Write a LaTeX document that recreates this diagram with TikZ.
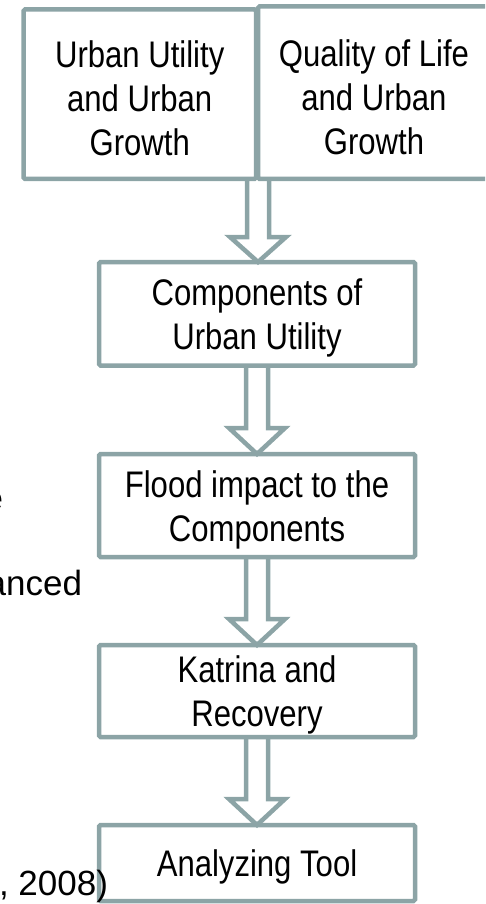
\documentclass[tikz,border=0pt]{standalone}
\usepackage{fontspec}
\setmainfont{Liberation Sans}[FakeStretch=0.84]
\newfontfamily\fragfont{Liberation Sans}
\usetikzlibrary{calc}
\definecolor{bordercol}{RGB}{140,164,166}
\newcommand{\fl}{\rule{0pt}{35pt}}
\tikzset{
  box/.style={draw=bordercol, line width=4.5pt, rounded corners=1.5pt, fill=white,
    inner sep=0pt, outer sep=0pt, align=center,
    font=\fontsize{37}{44}\selectfont},
  blockarrow/.style={draw=bordercol, line width=4.5pt, line join=miter},
  frag/.style={anchor=base east, inner sep=0pt, outer sep=0pt, font=\fragfont\fontsize{35}{42}\selectfont}
}
\begin{document}
\begin{tikzpicture}[x=1pt,y=-1pt]
\useasboundingbox (0,0) rectangle (485,904);
\begin{scope}
\clip (0,0) rectangle (485,904);
% fragments of text cut at the left edge
\node[frag] (fe) at (3,510) {e};
\node[frag] (fanced) at (82,595) {anced};
% boxes
\node[box, minimum width=232.5pt, minimum height=169.5pt] (A) at (139.75,94.25)
  {\fl Urban Utility\\and Urban\\Growth};
\node[box, minimum width=232pt, minimum height=172.5pt] (B) at (374,92.75)
  {\fl Quality of Life\\and Urban\\Growth};
\node[box, minimum width=316pt, minimum height=103.5pt] (C) at (257,313.75)
  {\fl Components of\\Urban Utility};
\node[box, minimum width=316pt, minimum height=103pt] (D) at (257,505.5)
  {\fl Flood impact to the\\Components};
\node[box, minimum width=316pt, minimum height=92pt] (E) at (257,691)
  {\fl Katrina and\\Recovery};
\node[box, minimum width=316pt, minimum height=76pt] (F) at (257,863)
  {\fl Analyzing Tool};
\coordinate (AB) at (258,179);
% block arrows
\newcommand{\blockarr}[2]{%
  \draw[blockarrow] let \p1=(#1), \p2=(#2) in
    (\x2-11pt,\y1) -- (\x2-11pt,\y2+26pt) -- (\x2-28pt,\y2+26pt) -- (\x2,\y2)
    -- (\x2+28pt,\y2+26pt) -- (\x2+11pt,\y2+26pt) -- (\x2+11pt,\y1);}
\draw[blockarrow] let \p1=(AB), \p2=(C.north) in
    (\x1-11pt,\y1) -- (\x1-11pt,\y2+25pt) -- (\x1-28pt,\y2+25pt) -- (\x1,\y2)
    -- (\x1+28pt,\y2+25pt) -- (\x1+11pt,\y2+25pt) -- (\x1+11pt,\y1);
\blockarr{C.south}{D.north}
\blockarr{D.south}{E.north}
\blockarr{E.south}{F.north}
\node[frag] (f2008) at (108,895) {, 2008)};
\end{scope}
\end{tikzpicture}
\end{document}
